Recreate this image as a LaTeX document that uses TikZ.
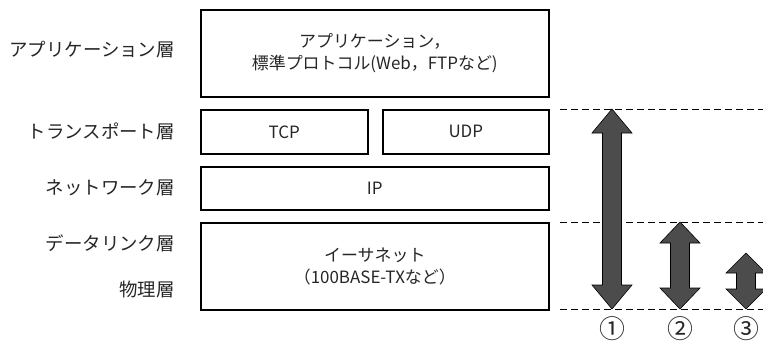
\documentclass[tikz,border=0pt]{standalone}
\usepackage{fontspec}
\setmainfont{Noto Sans CJK JP}
\begin{document}
\begin{tikzpicture}[x=1bp,y=-1bp,
  layerbox/.style={draw=black,line width=1.6bp,inner sep=0pt,anchor=north west,align=center,text=black!85,font=\fontsize{17}{22.5}\selectfont},
  layerlabel/.style={anchor=east,inner sep=0pt,text=black!85,font=\fontsize{18.5}{21}\selectfont},
  guide/.style={dash pattern=on 7bp off 4bp,line width=0.8bp},
  fatarrow/.style={fill=black!70,draw=black,line width=0.6bp,line join=miter},
  numlabel/.style={inner sep=0pt,text=black!85,font=\fontsize{26}{28}\selectfont}]
\useasboundingbox (0,0) rectangle (763,343);
% boxes
\node[layerbox,minimum width=348bp,minimum height=87bp] (app) at (200,9) {アプリケーション，\\標準プロトコル(Web，FTPなど)};
\node[layerbox,minimum width=167bp,minimum height=44bp] (tcp) at (200,109) {TCP};
\node[layerbox,minimum width=166bp,minimum height=44bp] (udp) at (382,109) {UDP};
\node[layerbox,minimum width=348bp,minimum height=43bp] (ip) at (200,166) {IP};
\node[layerbox,minimum width=348bp,minimum height=87bp] (eth) at (200,222) {イーサネット\\（100BASE-TXなど）};
% labels
\node[layerlabel] (l1) at (175,50) {アプリケーション層};
\node[layerlabel] (l2) at (175,131) {トランスポート層};
\node[layerlabel] (l3) at (175,188) {ネットワーク層};
\node[layerlabel] (l4) at (175,243) {データリンク層};
\node[layerlabel] (l5) at (175,289) {物理層};
% guide lines
\coordinate (g1a) at (560,109); \coordinate (g1b) at (763,109);
\coordinate (g2a) at (560,222); \coordinate (g2b) at (763,222);
\coordinate (g3a) at (560,309); \coordinate (g3b) at (763,309);
\draw[guide] (g1a) -- (g1b);
\draw[guide] (g2a) -- (g2b);
\draw[guide] (g3a) -- (g3b);
% double arrows
\newcommand{\dblarrow}[4]{% x, ytop, ybot, head length
  \draw[fatarrow] (#1,#2) -- (#1+20,#2+#4) -- (#1+9.5,#2+#4) -- (#1+9.5,#3-#4) -- (#1+20,#3-#4)
    -- (#1,#3) -- (#1-20,#3-#4) -- (#1-9.5,#3-#4) -- (#1-9.5,#2+#4) -- (#1-20,#2+#4) -- cycle;}
\dblarrow{612}{109}{309}{24}
\dblarrow{680}{222}{309}{21}
\dblarrow{746}{253}{309}{20}
% numbers
\node[numlabel] (n1) at (612,329) {①};
\node[numlabel] (n2) at (680,329) {②};
\node[numlabel] (n3) at (746,329) {③};
\end{tikzpicture}
\end{document}
